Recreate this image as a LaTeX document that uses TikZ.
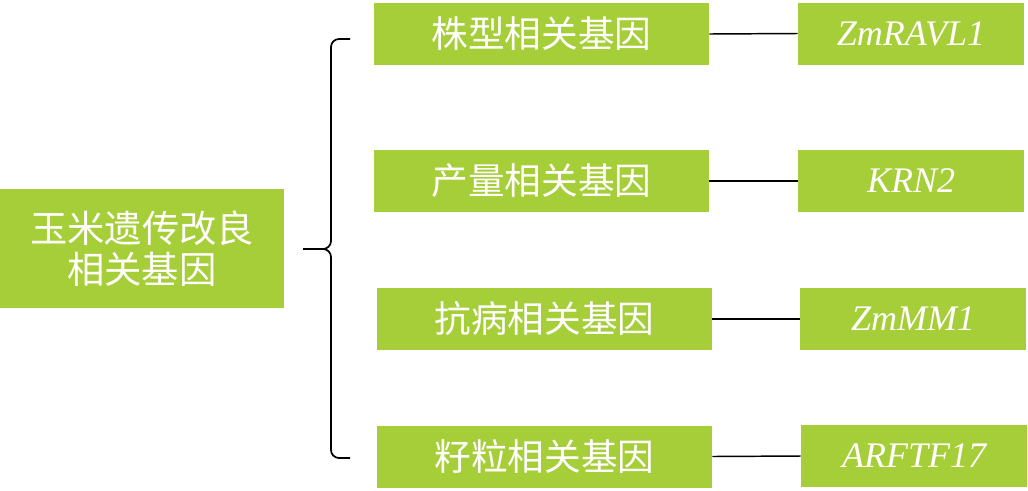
\documentclass[tikz,border=0pt]{standalone}
\usepackage{fontspec}
\setmainfont{Liberation Serif}
\newfontfamily\cjk{Noto Sans CJK SC}
\definecolor{LeafGreen}{HTML}{A6CE39}
\usetikzlibrary{positioning}

\begin{document}
\begin{tikzpicture}[
  x=0.75pt, y=-0.75pt,
  rootbox/.style = {fill=LeafGreen, inner sep=0pt, minimum width=213pt,
                    minimum height=89.25pt, align=center, text=white,
                    font=\cjk\fontsize{28}{30.5}\selectfont},
  trait/.style   = {fill=LeafGreen, inner sep=0pt, minimum width=251.25pt,
                    minimum height=46.5pt, text=white,
                    font=\cjk\fontsize{27.5}{30}\selectfont},
  gene/.style    = {fill=LeafGreen, inner sep=0pt, minimum width=169.5pt,
                    minimum height=46.5pt, text=white,
                    font=\fontsize{27}{30}\selectfont\itshape},
  link/.style    = {line width=1.1pt, black},
  brace/.style   = {line width=1.3pt, black, rounded corners=6pt}
]
  \useasboundingbox (0,0) rectangle (1028,490);

  % Root node
  \node[rootbox] (root) at (142,248.5) {玉米遗传改良\\相关基因};

  % Trait groups
  \node[trait] (plant)   at (541.5,34)  {株型相关基因};
  \node[trait] (yield)   at (541.5,181) {产量相关基因};
  \node[trait] (disease) at (544.5,319) {抗病相关基因};
  \node[trait] (kernel)  at (544.5,456.5) {籽粒相关基因};

  % Genes
  \node[gene] (ravl)  at (911,33.5) {ZmRAVL1};
  \node[gene] (krn)   at (911,181)  {KRN2};
  \node[gene] (mm)    at (913,319)  {ZmMM1};
  \node[gene] (arftf) at (914,456)  {ARFTF17};

  % Brace
  \coordinate (tip) at (303,249);
  \draw[brace] (350,39) -- (331,39) -- (331,249) -- (tip);
  \draw[brace] (tip) -- (331,249) -- (331,458) -- (350,458);

  % Links
  \draw[link] (plant.east)   -- (ravl.west);
  \draw[link] (yield.east)   -- (krn.west);
  \draw[link] (disease.east) -- (mm.west);
  \draw[link] (kernel.east)  -- (arftf.west);

\end{tikzpicture}
\end{document}
